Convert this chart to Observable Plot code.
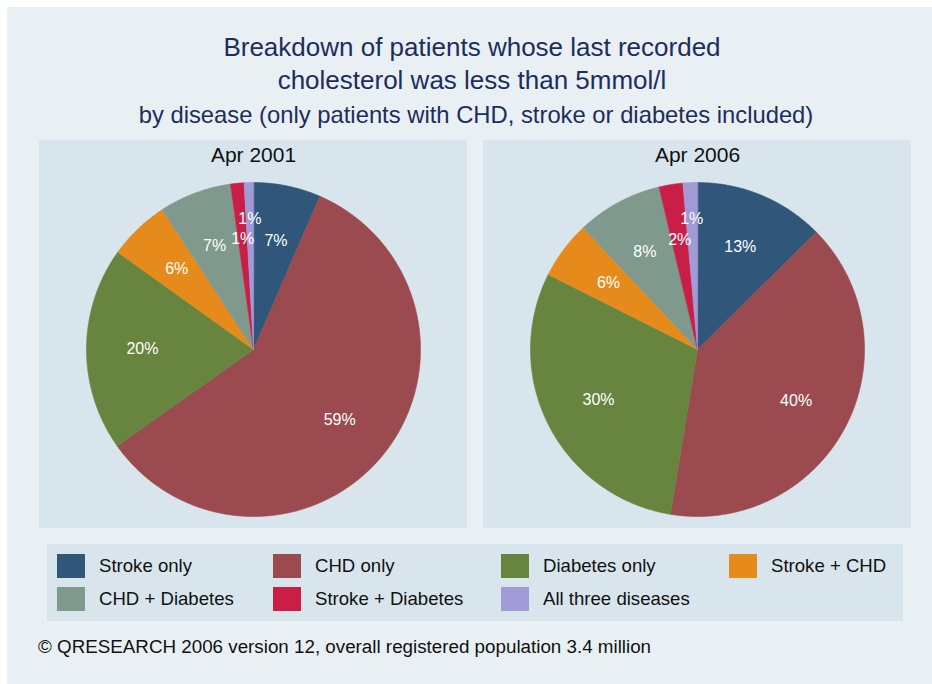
<!DOCTYPE html>
<html>
<head>
<meta charset="utf-8">
<script src="https://cdn.jsdelivr.net/npm/d3@7"></script>
<script src="https://cdn.jsdelivr.net/npm/@observablehq/plot@0.6"></script>
<style>
  html, body { margin: 0; padding: 0; background: #ffffff; }
  body { width: 932px; height: 684px; position: relative; overflow: hidden;
         font-family: "Liberation Sans", Arial, sans-serif; }
  #bg { position: absolute; left: 7px; top: 7px; width: 925px; height: 677px; background: #e8f0f3; }
  .abs { position: absolute; white-space: nowrap; }
  .title { left: 0; width: 944px; text-align: center; color: #1d2d5c; }
  #pie1, #pie2 { position: absolute; top: 140px; }
  #pie1 { left: 39px; } #pie2 { left: 483px; }
  #legend { position: absolute; left: 47px; top: 544px; width: 856px; height: 77px; background: #d8e5ec; }
  .item { position: absolute; height: 24px; }
  .sw { position: absolute; left: 0; top: 0; width: 28px; height: 24px; }
  .lab { position: absolute; left: 42px; top: 0; line-height: 24px; font-size: 18.6px; color: #111; white-space: nowrap; }
  #caption { left: 38px; top: 635px; line-height: 24px; font-size: 18.8px; color: #111; }
</style>
</head>
<body>
<div id="bg"></div>
<div class="abs title" style="top:33px; line-height:28px; font-size:26px;">Breakdown of patients whose last recorded</div>
<div class="abs title" style="top:66px; line-height:28px; font-size:26px;">cholesterol was less than 5mmol/l</div>
<div class="abs title" style="top:101px; line-height:28px; font-size:23.8px; padding-left:4px;">by disease (only patients with CHD, stroke or diabetes included)</div>
<div id="pie1"></div>
<div id="pie2"></div>
<div id="legend"></div>
<div class="abs" id="caption">© QRESEARCH 2006 version 12, overall registered population 3.4 million</div>
<script>
// ---- data ----
const categories = ["Stroke only", "CHD only", "Diabetes only", "Stroke + CHD", "CHD + Diabetes", "Stroke + Diabetes", "All three diseases"];
const periods = ["Apr 2001", "Apr 2006"];
const values2001 = [6.5, 58.7, 19.7, 5.9, 7.0, 1.3, 0.9];
const values2006 = [12.6, 40.0, 29.8, 5.6, 8.3, 2.3, 1.4];
const palette = ["#30577a", "#9b4a50", "#67853f", "#e68b1b", "#7f998d", "#c91f47", "#a09ad6"];

function pieChart(title, values) {
  const arcs = d3.pie().sort(null).value(d => d)(values);
  const poly = [];
  arcs.forEach((a, i) => {
    poly.push({cat: categories[i], x: 0, y: 0});
    const n = Math.max(2, Math.ceil((a.endAngle - a.startAngle) / 0.01));
    for (let k = 0; k <= n; k++) {
      const t = a.startAngle + (a.endAngle - a.startAngle) * k / n;
      poly.push({cat: categories[i], x: Math.sin(t), y: Math.cos(t)});
    }
  });
  const labels = arcs.map((a, i) => {
    const m = (a.startAngle + a.endAngle) / 2;
    const rr = i === arcs.length - 1 ? 0.785 : 0.665;
    return {x: rr * Math.sin(m), y: rr * Math.cos(m), text: Math.round(values[i]) + "%"};
  });
  return Plot.plot({
    width: 428, height: 388,
    marginLeft: 47, marginRight: 47, marginTop: 42, marginBottom: 12,
    x: {domain: [-1, 1], axis: null},
    y: {domain: [-1, 1], axis: null},
    color: {domain: categories, range: palette},
    style: {background: "#d8e5ec", fontFamily: "'Liberation Sans', Arial, sans-serif", overflow: "visible"},
    marks: [
      Plot.line(poly, {x: "x", y: "y", z: "cat", fill: "cat", stroke: "cat", strokeWidth: 0.6, curve: "linear-closed"}),
      Plot.text(labels, {x: "x", y: "y", text: "text", fill: "white", fontSize: 16}),
      Plot.text([title], {frameAnchor: "top", lineAnchor: "middle", dy: -27, fontSize: 21, fill: "#111"})
    ]
  });
}

document.getElementById("pie1").appendChild(pieChart(periods[0], values2001));
document.getElementById("pie2").appendChild(pieChart(periods[1], values2006));

// legend
const colX = [10, 226, 454, 682];
const rowY = [10, 43];
const legend = document.getElementById("legend");
categories.forEach((c, i) => {
  const item = document.createElement("div");
  item.className = "item";
  item.style.left = colX[i % 4] + "px";
  item.style.top = rowY[Math.floor(i / 4)] + "px";
  item.innerHTML = `<div class="sw" style="background:${palette[i]}"></div><div class="lab">${c}</div>`;
  legend.appendChild(item);
});
</script>
</body>
</html>
